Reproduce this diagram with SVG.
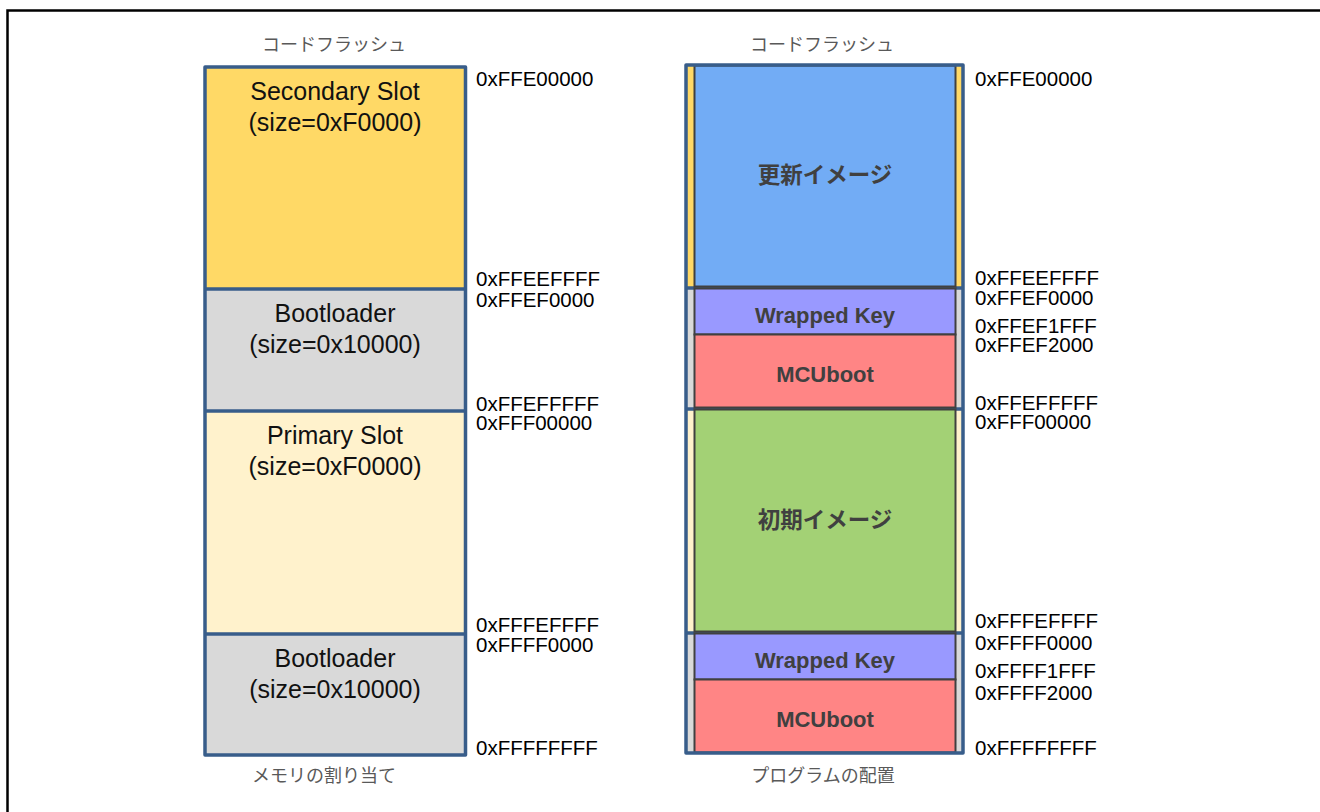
<svg xmlns="http://www.w3.org/2000/svg" width="1320" height="812" viewBox="0 0 1320 812">
<style>
.frame{fill:none;stroke:#000;stroke-width:2.5}
.col{fill:none;stroke:#385D8A;stroke-width:3.5;stroke-linejoin:round}
.div{stroke:#385D8A;stroke-width:3.5}
.box{stroke:#404040;stroke-width:2}
.sec{fill:#FFD966}.boot{fill:#D9D9D9}.pri{fill:#FFF2CC}
.upd{fill:#72ACF5}.ini{fill:#A3D175}.key{fill:#9999FF}.mcu{fill:#FF8585}
.lbl{font-family:"Liberation Sans",Arial,sans-serif;font-size:25px;fill:#111;text-anchor:middle}
.hex{font-family:"Liberation Sans",Arial,sans-serif;font-size:20.5px;fill:#000}
.bl{font-family:"Liberation Sans",Arial,"Noto Sans CJK JP",sans-serif;font-size:22px;font-weight:bold;fill:#404040;text-anchor:middle}
.blj{font-family:"Noto Sans CJK JP",sans-serif;font-size:22.5px;font-weight:bold;fill:#404040;text-anchor:middle}
.jp{font-family:"Noto Sans CJK JP",sans-serif;font-size:18px;fill:#595959;text-anchor:middle}
</style>
<rect class="frame" x="7.5" y="10.5" width="1400" height="900"/>
<g id="left-column">
<rect class="sec" x="205" y="67" width="260.5" height="222"/>
<rect class="boot" x="205" y="289" width="260.5" height="122"/>
<rect class="pri" x="205" y="411" width="260.5" height="223"/>
<rect class="boot" x="205" y="634" width="260.5" height="121"/>
<line class="div" x1="205" y1="289" x2="465.5" y2="289"/>
<line class="div" x1="205" y1="411" x2="465.5" y2="411"/>
<line class="div" x1="205" y1="634" x2="465.5" y2="634"/>
<rect class="col" x="205" y="67" width="260.5" height="688"/>
<text class="lbl" x="335" y="100">Secondary Slot</text>
<text class="lbl" x="335" y="131">(size=0xF0000)</text>
<text class="lbl" x="335" y="322">Bootloader</text>
<text class="lbl" x="335" y="353">(size=0x10000)</text>
<text class="lbl" x="335" y="444">Primary Slot</text>
<text class="lbl" x="335" y="475">(size=0xF0000)</text>
<text class="lbl" x="335" y="667">Bootloader</text>
<text class="lbl" x="335" y="698">(size=0x10000)</text>
<text class="jp" x="334" y="51">コードフラッシュ</text>
<text class="jp" x="324" y="782">メモリの割り当て</text>
</g>
<g id="left-addresses">
<text class="hex" x="476" y="86">0xFFE00000</text>
<text class="hex" x="476" y="286">0xFFEEFFFF</text>
<text class="hex" x="476" y="307">0xFFEF0000</text>
<text class="hex" x="476" y="411">0xFFEFFFFF</text>
<text class="hex" x="476" y="430">0xFFF00000</text>
<text class="hex" x="476" y="632">0xFFFEFFFF</text>
<text class="hex" x="476" y="652">0xFFFF0000</text>
<text class="hex" x="476" y="755">0xFFFFFFFF</text>
</g>
<g id="right-column">
<rect class="sec" x="686" y="65" width="277" height="223"/>
<rect class="boot" x="686" y="288" width="277" height="121"/>
<rect class="pri" x="686" y="409" width="277" height="224"/>
<rect class="boot" x="686" y="633" width="277" height="120"/>
<line class="div" x1="686" y1="288" x2="963" y2="288"/>
<line class="div" x1="686" y1="409" x2="963" y2="409"/>
<line class="div" x1="686" y1="633" x2="963" y2="633"/>
<g id="update-image"><rect class="box upd" x="694.5" y="65.5" width="261" height="221"/><text class="blj" x="825" y="183">更新イメージ</text></g>
<g id="wrapped-key-1"><rect class="box key" x="694.5" y="288.5" width="261" height="46"/><text class="bl" x="825" y="323">Wrapped Key</text></g>
<g id="mcuboot-1"><rect class="box mcu" x="694.5" y="334.5" width="261" height="73"/><text class="bl" x="825" y="382">MCUboot</text></g>
<g id="initial-image"><rect class="box ini" x="694.5" y="409.5" width="261" height="222"/><text class="blj" x="825" y="528">初期イメージ</text></g>
<g id="wrapped-key-2"><rect class="box key" x="694.5" y="633.5" width="261" height="46"/><text class="bl" x="825" y="668">Wrapped Key</text></g>
<g id="mcuboot-2"><rect class="box mcu" x="694.5" y="679.5" width="261" height="73"/><text class="bl" x="825" y="727">MCUboot</text></g>
<rect class="col" x="686" y="65" width="277" height="688"/>
<text class="jp" x="822" y="51">コードフラッシュ</text>
<text class="jp" x="823" y="782">プログラムの配置</text>
</g>
<g id="right-addresses">
<text class="hex" x="975" y="86">0xFFE00000</text>
<text class="hex" x="975" y="285">0xFFEEFFFF</text>
<text class="hex" x="975" y="305">0xFFEF0000</text>
<text class="hex" x="975" y="333">0xFFEF1FFF</text>
<text class="hex" x="975" y="352">0xFFEF2000</text>
<text class="hex" x="975" y="410">0xFFEFFFFF</text>
<text class="hex" x="975" y="429">0xFFF00000</text>
<text class="hex" x="975" y="628">0xFFFEFFFF</text>
<text class="hex" x="975" y="650">0xFFFF0000</text>
<text class="hex" x="975" y="678">0xFFFF1FFF</text>
<text class="hex" x="975" y="700">0xFFFF2000</text>
<text class="hex" x="975" y="755">0xFFFFFFFF</text>
</g>
<g id="connectors"/>
</svg>
